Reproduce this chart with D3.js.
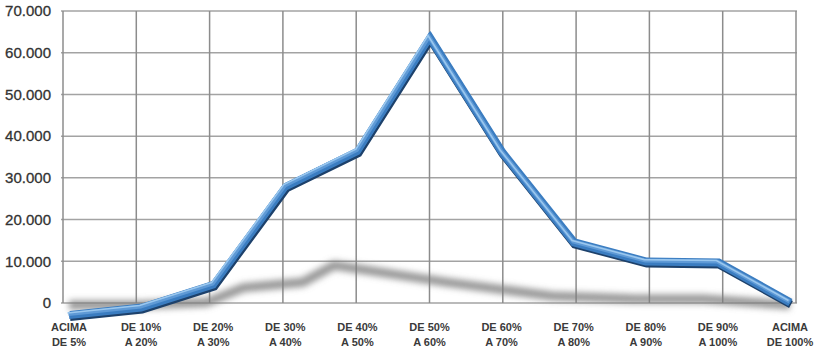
<!DOCTYPE html>
<html>
<head>
<meta charset="utf-8">
<script src="https://cdn.jsdelivr.net/npm/d3@7/dist/d3.min.js"></script>
<style>
	body { margin: 0; background: #fff; }
	svg text { font-family: "Liberation Sans", Arial, sans-serif; }
</style>
</head>
<body>
<div id="chart"></div>
<script>
// categories (two text lines each)
var categories = ["ACIMA|DE 5%", "DE 10%|A 20%", "DE 20%|A 30%", "DE 30%|A 40%", "DE 40%|A 50%",
	"DE 50%|A 60%", "DE 60%|A 70%", "DE 70%|A 80%", "DE 80%|A 90%", "DE 90%|A 100%", "ACIMA|DE 100%"];

// values as they appear in the picture
var values = [-3000, -1200, 4300, 27800, 36300, 63500, 36100, 14400, 9800, 9600, 0];

var yTicks = [0, 10000, 20000, 30000, 40000, 50000, 60000, 70000];

var width = 818, height = 354;

var svg = d3.select("#chart")
	.append("svg")
	.attr("width", width)
	.attr("height", height);

// scales
var gridX = d3.scalePoint().domain(categories).range([63, 796]);
var lineX = d3.scalePoint().domain(categories).range([69, 790]);
var y = d3.scaleLinear().domain([0, 70000]).range([303, 11]);

var fmt = function (v) {
	return v === 0 ? "0" : d3.format(",")(v).replace(/,/g, ".");
};

// grid
svg.append("g")
	.selectAll("line.h")
	.data(yTicks)
	.enter()
		.append("line")
		.attr("class", "h")
		.attr("x1", 61)
		.attr("x2", 797)
		.attr("y1", function (d) { return y(d); })
		.attr("y2", function (d) { return y(d); })
		.attr("stroke", "#a3a3a3")
		.attr("stroke-width", 1.5);

svg.append("g")
	.selectAll("line.v")
	.data(categories)
	.enter()
		.append("line")
		.attr("class", "v")
		.attr("x1", function (d) { return gridX(d); })
		.attr("x2", function (d) { return gridX(d); })
		.attr("y1", y(70000))
		.attr("y2", y(0))
		.attr("stroke", "#8c8c8c")
		.attr("stroke-width", 1.5);

// y labels
svg.append("g")
	.selectAll("text")
	.data(yTicks)
	.enter()
		.append("text")
		.attr("x", 51)
		.attr("y", function (d) { return y(d); })
		.attr("dy", "0.35em")
		.attr("text-anchor", "end")
		.attr("font-size", 15)
		.attr("fill", "#333")
		.attr("stroke", "#333")
		.attr("stroke-width", 0.3)
		.text(fmt);

// x labels
var xl = svg.append("g")
	.selectAll("text")
	.data(categories)
	.enter()
		.append("text")
		.attr("text-anchor", "middle")
		.attr("font-size", 11)
		.attr("font-weight", "bold")
		.attr("fill", "#3a3a3a");

xl.append("tspan")
	.attr("x", function (d) { return lineX(d); })
	.attr("y", 331)
	.text(function (d) { return d.split("|")[0]; });

xl.append("tspan")
	.attr("x", function (d) { return lineX(d); })
	.attr("y", 346)
	.text(function (d) { return d.split("|")[1]; });

// shadow
var defs = svg.append("defs");
defs.append("filter")
	.attr("id", "blur")
	.attr("x", "-20%").attr("y", "-50%")
	.attr("width", "140%").attr("height", "200%")
	.append("feGaussianBlur")
	.attr("stdDeviation", 3);

var shadowLine = d3.line()
	.x(function (d, i) {
		var h = Math.max(0, y(0) - y(d));
		return lineX(categories[i]) - 0.36 * h;
	})
	.y(function (d) {
		var h = Math.max(0, y(0) - y(d));
		return y(0) - 0.15 * h + 2;
	});

svg.append("path")
	.datum(values)
	.attr("d", shadowLine)
	.attr("fill", "none")
	.attr("stroke", "#7c7c7c")
	.attr("stroke-width", 9)
	.attr("stroke-opacity", 0.8)
	.attr("filter", "url(#blur)");

// ribbon
var line = d3.line()
	.x(function (d, i) { return lineX(categories[i]); })
	.y(function (d) { return y(d); });

var layers = [
	{ color: "#1d416b", w: 8, dx: 1, dy: 1.5 },
	{ color: "#3b7dc1", w: 7, dx: 0, dy: 0 },
	{ color: "#3b7dc1", w: 6, dx: 1, dy: -1.5 },
	{ color: "#5f9ad6", w: 4, dx: -0.5, dy: -1.5 },
	{ color: "#9ac7ee", w: 1.6, dx: -1.5, dy: -2.5 }
];

svg.append("g")
	.selectAll("path")
	.data(layers)
	.enter()
		.append("path")
		.attr("d", line(values))
		.attr("transform", function (d) { return "translate(" + d.dx + "," + d.dy + ")"; })
		.attr("fill", "none")
		.attr("stroke", function (d) { return d.color; })
		.attr("stroke-width", function (d) { return d.w; })
		.attr("stroke-linejoin", "miter")
		.attr("stroke-linecap", "butt");
</script>
</body>
</html>
